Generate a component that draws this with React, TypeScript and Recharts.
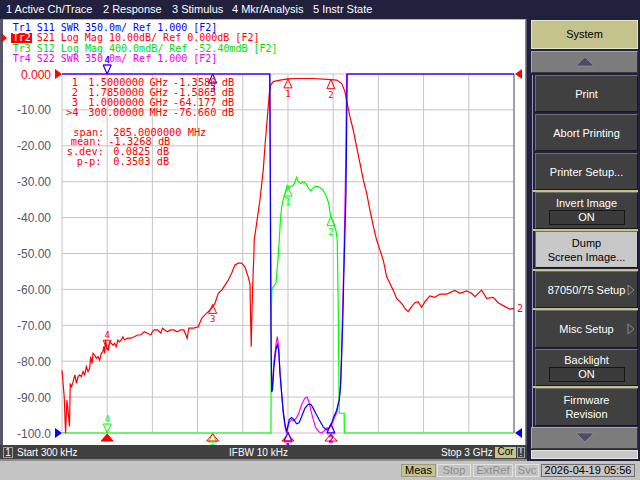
import React from 'react'
import {
  LineChart, Line, XAxis, YAxis, CartesianGrid, ReferenceDot, ReferenceLine,
} from 'recharts'

// sweep 300 kHz .. 3 GHz (values in GHz)
const START_GHZ = 0.0003
const STOP_GHZ = 3
const FREQ_TICKS = [0.0003, 0.3, 0.6, 0.9, 1.2, 1.5, 1.8, 2.1, 2.4, 2.7, 3]
const DB_TICKS = [0, -10, -20, -30, -40, -50, -60, -70, -80, -90, -100]

// Tr2 S21 Log Mag, 10 dB/div, ref 0 dB
const S21_GHZ = [
  0.0003, 0.015, 0.024, 0.033, 0.042, 0.050, 0.055, 0.064, 0.074, 0.086,
  0.096, 0.107, 0.118, 0.129, 0.140, 0.151, 0.162, 0.173, 0.184, 0.191,
  0.200, 0.206, 0.217, 0.228, 0.239, 0.250, 0.261, 0.272, 0.278, 0.283,
  0.289, 0.300, 0.309, 0.316, 0.327, 0.338, 0.349, 0.360, 0.371, 0.382,
  0.393, 0.404, 0.414, 0.436, 0.458, 0.480, 0.502, 0.524, 0.546, 0.568,
  0.590, 0.600, 0.612, 0.634, 0.656, 0.667, 0.699, 0.721, 0.743, 0.765,
  0.787, 0.809, 0.831, 0.842, 0.875, 0.904, 0.927, 0.949, 0.971, 0.993,
  1.015, 1.037, 1.060, 1.082, 1.104, 1.126, 1.148, 1.170, 1.192, 1.214,
  1.236, 1.248, 1.252, 1.256, 1.260, 1.265, 1.269, 1.274, 1.276, 1.292,
  1.314, 1.336, 1.347, 1.358, 1.369, 1.376, 1.385, 1.402, 1.447, 1.500,
  1.557, 1.668, 1.756, 1.785, 1.823, 1.856, 1.878, 1.893, 1.911, 1.933,
  1.955, 1.978, 2.000, 2.022, 2.044, 2.067, 2.088, 2.110, 2.132, 2.155,
  2.176, 2.198, 2.221, 2.254, 2.276, 2.298, 2.320, 2.342, 2.364, 2.387,
  2.409, 2.442, 2.475, 2.508, 2.553, 2.608, 2.641, 2.685, 2.719, 2.741,
  2.785, 2.818, 2.862, 2.895, 2.940, 2.973, 3.000,
]
const S21_DB = [
  -82.5, -89.9, -100, -90.8, -94.5, -98.2, -86.2, -87.1, -85.7, -83.8,
  -86.2, -84.3, -83.8, -84.3, -82.9, -83.8, -81.5, -82.9, -82.0, -78.7,
  -80.6, -77.8, -78.3, -79.2, -78.7, -79.7, -77.8, -77.3, -75.9, -77.8,
  -74.1, -76.7, -76.9, -74.6, -75.0, -75.5, -75.0, -76.0, -74.1, -74.6,
  -74.1, -73.2, -74.1, -73.6, -73.6, -73.2, -72.7, -72.7, -71.8, -72.2,
  -72.7, -71.8, -71.3, -71.3, -72.2, -70.8, -71.8, -71.3, -71.3, -71.8,
  -71.3, -71.3, -73.6, -70.8, -70.8, -70.4, -68.1, -67.1, -66.2, -65.3,
  -63.9, -61.1, -60.2, -58.8, -57.4, -55.5, -53.2, -52.7, -52.7, -53.7,
  -56.5, -58.5, -68.5, -76.0, -68.5, -60.2, -55.5, -50.0, -46.2, -41.6,
  -35.1, -26.7, -20.2, -14.7, -9.1, -5.4, -3.1, -2.1, -1.7, -1.36,
  -1.25, -1.25, -1.5, -1.59, -1.7, -2.6, -4.9, -8.2, -11.9, -15.6,
  -20.2, -24.9, -29.5, -33.2, -37.9, -42.5, -46.2, -49.0, -51.8, -56.5,
  -58.3, -60.2, -62.5, -63.9, -65.3, -66.2, -64.8, -63.7, -63.4, -65.0,
  -63.4, -61.8, -62.2, -61.3, -61.3, -60.3, -61.1, -60.4, -61.1, -62.0,
  -60.2, -62.5, -62.2, -63.7, -64.8, -65.5, -65.3,
]

// Tr3 S12 Log Mag, 400 mdB/div, ref -52.40 dB (trace sits on the bottom edge outside the band)
const S12_GHZ = [
  0.0003, 1.387, 1.390, 1.393, 1.402, 1.420, 1.435, 1.442, 1.451, 1.462,
  1.480, 1.495, 1.513, 1.535, 1.546, 1.557, 1.568, 1.584, 1.601, 1.619,
  1.634, 1.650, 1.668, 1.685, 1.707, 1.730, 1.752, 1.770, 1.783, 1.800,
  1.818, 1.827, 1.833, 1.840, 1.873, 1.874, 3,
]
const S12_DB = [
  -52.4, -52.4, -51.0, -50.8, -50.77, -50.73, -50.44, -50.25, -49.99, -49.84,
  -49.73, -49.64, -49.66, -49.64, -49.60, -49.55, -49.60, -49.62, -49.60, -49.62,
  -49.67, -49.70, -49.67, -49.65, -49.66, -49.69, -49.75, -49.84, -49.99, -50.05,
  -50.14, -50.25, -50.92, -52.18, -52.18, -52.4, -52.4,
]

// Tr1 S11 SWR, 350m/div, ref 1.000 (pinned to the top edge outside the band)
const S11_GHZ = [
  0.0003, 1.380, 1.384, 1.387, 1.392, 1.397, 1.407, 1.420, 1.429, 1.438,
  1.447, 1.458, 1.468, 1.480, 1.491, 1.498, 1.508, 1.524, 1.539, 1.557,
  1.573, 1.591, 1.612, 1.634, 1.652, 1.668, 1.685, 1.707, 1.734, 1.756,
  1.774, 1.790, 1.805, 1.823, 1.840, 1.849, 1.856, 1.863, 1.871, 1.885,
  1.893, 3,
]
const S11_SWR = [
  4.5, 4.5, 2.88, 2.0, 1.40, 1.42, 1.65, 1.81, 1.86, 1.81,
  1.58, 1.39, 1.22, 1.09, 1.01, 1.06, 1.13, 1.15, 1.13, 1.09,
  1.10, 1.16, 1.24, 1.28, 1.28, 1.24, 1.19, 1.13, 1.06, 1.03,
  1.05, 1.10, 1.16, 1.22, 1.32, 1.45, 1.74, 2.07, 2.56, 3.34,
  4.5, 4.5,
]

// Tr4 S22 SWR, 350m/div, ref 1.000
const S22_GHZ = [
  0.0003, 1.378, 1.383, 1.387, 1.391, 1.397, 1.407, 1.420, 1.429, 1.438,
  1.447, 1.458, 1.468, 1.480, 1.491, 1.498, 1.508, 1.524, 1.539, 1.557,
  1.573, 1.591, 1.612, 1.627, 1.640, 1.652, 1.668, 1.685, 1.707, 1.724,
  1.740, 1.756, 1.774, 1.790, 1.805, 1.823, 1.840, 1.849, 1.856, 1.863,
  1.871, 1.878, 1.884, 1.889, 3,
]
const S22_SWR = [
  4.5, 4.5, 3.6, 2.3, 1.55, 1.45, 1.70, 1.86, 1.94, 1.85,
  1.60, 1.38, 1.20, 1.06, 1.00, 1.05, 1.10, 1.13, 1.12, 1.15,
  1.20, 1.28, 1.34, 1.35, 1.30, 1.22, 1.13, 1.05, 1.01, 1.00,
  1.02, 1.05, 1.05, 1.08, 1.14, 1.20, 1.33, 1.50, 1.80, 2.2,
  2.7, 3.2, 3.7, 4.5, 4.5,
]

// markers 1..4 (marker 4 is active)
const MKR_GHZ = [1.5, 1.785, 1.0, 0.3]
const MKR_S21 = [-1.358, -1.5865, -64.177, -76.66]
const MKR_S12 = [-49.66, -49.99, -52.4, -52.4]
const MKR_S11 = [1.01, 1.09, 4.5, 4.5]
const MKR_S22 = [1.0, 1.08, 4.5, 4.5]
const ACTIVE_MKR = 3

const MKR_FREQ_TXT = ['1.5000000', '1.7850000', '1.0000000', '300.00000']
const MKR_UNIT_TXT = ['GHz', 'GHz', 'GHz', 'MHz']
const MKR_VAL_TXT = ['-1.3580', '-1.5865', '-64.177', '-76.660']

const MENU = ['1 Active Ch/Trace', '2 Response', '3 Stimulus', '4 Mkr/Analysis', '5 Instr State']
const MENU_X = [6, 103, 172, 232, 313]

const RED = '#ff0000'
const BLUE = '#0000ff'
const GREEN = '#00ff00'
const MAGENTA = '#ff00ff'
const MONO = '"DejaVu Sans Mono", monospace'
const SANS = '"Liberation Sans", Arial, sans-serif'
const KHAKI = '#c3c38b'
const AXIS_W = 62

const zip = (fs: number[], vs: number[]) => fs.map((f, i) => ({ f, v: vs[i] }))

const s21 = zip(S21_GHZ, S21_DB)
const s12 = zip(S12_GHZ, S12_DB)
const s11 = zip(S11_GHZ, S11_SWR)
const s22 = zip(S22_GHZ, S22_SWR)

function fmtDb(v: number) {
  if (v === 0) return '0.000'
  return v <= -100 ? v.toFixed(1) : v.toFixed(2)
}

// scale labels sit right-aligned 11px left of the graticule
function DbTick(props: any) {
  const { y, payload } = props
  return (
    <text x={AXIS_W - 11} y={y} dy={4.5} textAnchor="end" fontFamily={SANS} fontSize={12}
      fill={payload.value === 0 ? RED : '#55556e'}>
      {fmtDb(payload.value)}
    </text>
  )
}

// trace marker: active one points down with the number above
function markerShape(label: string, color: string, active: boolean) {
  return (p: any) => {
    const { cx, cy } = p
    if (active) {
      return (
        <g>
          <polygon points={`${cx - 4},${cy - 9} ${cx + 4},${cy - 9} ${cx},${cy}`}
            fill="none" stroke={color} strokeWidth={1} />
          <text x={cx} y={cy - 11} textAnchor="middle" fontFamily={MONO} fontSize={9} fill={color}>{label}</text>
        </g>
      )
    }
    return (
      <g>
        <polygon points={`${cx},${cy} ${cx - 4},${cy + 9} ${cx + 4},${cy + 9}`}
          fill="none" stroke={color} strokeWidth={1} />
        <text x={cx} y={cy + 18} textAnchor="middle" fontFamily={MONO} fontSize={9} fill={color}>{label}</text>
      </g>
    )
  }
}

// stimulus marker flags under the graticule
function stimShape(active: boolean) {
  return (p: any) => {
    const { cx, cy } = p
    return (
      <polygon points={`${cx},${cy + 1} ${cx - 6},${cy + 8} ${cx + 6},${cy + 8}`}
        fill={active ? RED : 'none'} stroke={RED} strokeWidth={1} />
    )
  }
}

const refLeft = (color: string) => (p: any) => (
  <polygon points={`${p.cx - 7},${p.cy - 5} ${p.cx - 7},${p.cy + 5} ${p.cx},${p.cy}`} fill={color} />
)
const refRight = (color: string) => (p: any) => (
  <polygon points={`${p.cx + 8},${p.cy - 5} ${p.cx + 8},${p.cy + 5} ${p.cx + 1},${p.cy}`} fill={color} />
)
const traceTag = (label: string, color: string) => (p: any) => (
  <text x={p.cx + 3} y={p.cy + 4} fontFamily={MONO} fontSize={10} fill={color}>{label}</text>
)

function Txt({ x, y, size = 10, color = '#000', font = MONO, children }: any) {
  return (
    <div style={{
      position: 'absolute', left: x, top: y - 0.485 * size, fontSize: size, lineHeight: `${size}px`,
      fontFamily: font, color, whiteSpace: 'pre',
    }}>{children}</div>
  )
}

function Btn({ top, h, lines, left = 535, w = 103, bg = '#404040', fg = '#fff', box, arrow }: any) {
  return (
    <div style={{
      position: 'absolute', left, top, width: w, height: h, boxSizing: 'border-box', background: bg, color: fg,
      borderTop: '1px solid #707070', borderLeft: '1px solid #707070',
      borderRight: '1px solid #181818', borderBottom: '1px solid #181818',
      fontFamily: SANS, fontSize: 11, lineHeight: '14px',
      display: 'flex', flexDirection: 'column', alignItems: 'center', justifyContent: 'center',
    }}>
      {lines.map((l: string) => <div key={l}>{l}</div>)}
      {box && (
        <div style={{
          width: 76, height: 15, boxSizing: 'border-box', border: '1px solid #161616',
          background: '#3a3a3a', textAlign: 'center', lineHeight: '13px',
        }}>{box}</div>
      )}
      {arrow && (
        <svg width={8} height={12} style={{ position: 'absolute', right: 2, top: (h - 12) / 2 - 1 }}>
          <polygon points="1,1 1,11 7,6" fill="none" stroke="#8a8a8a" />
        </svg>
      )}
    </div>
  )
}

function ArrowBtn({ top, up }: any) {
  return (
    <div style={{
      position: 'absolute', left: 531, top, width: 107, height: 22, boxSizing: 'border-box', background: '#7c7c7c',
      borderTop: '1px solid #a8a8a8', borderLeft: '1px solid #a8a8a8', borderRight: '1px solid #3a3a3a', borderBottom: '1px solid #3a3a3a',
    }}>
      <svg width={107} height={22} style={{ position: 'absolute', left: -1, top: -1 }}>
        <polygon points={up ? '45,15 54,6 63,15' : '45,6 54,15 63,6'} fill="#4c4c68" stroke="#9a9aa8" strokeWidth={0.6} />
      </svg>
    </div>
  )
}

function StatusBox({ x, w, bg, color, border, children }: any) {
  return (
    <div style={{
      position: 'absolute', left: x, top: 464, width: w, height: 13, boxSizing: 'border-box', background: bg, color,
      border: `1px solid ${border}`, fontFamily: SANS, fontSize: 11, lineHeight: '11px', textAlign: 'center',
    }}>{children}</div>
  )
}

export default function App() {
  return (
    <div style={{
      position: 'fixed', left: 0, top: 0, width: 640, height: 480, overflow: 'hidden',
      background: '#21213d', fontFamily: SANS,
    }}>
      {/* softkey menu */}
      {MENU.map((m, i) => <Txt key={m} x={MENU_X[i]} y={9} size={11} color="#ffffff" font={SANS}>{m}</Txt>)}

      {/* channel window */}
      <div style={{ position: 'absolute', left: 0, top: 19, width: 527, height: 441, background: '#56566c' }} />
      <div style={{
        position: 'absolute', left: 3, top: 19, width: 523, height: 426, background: '#ffffff',
        boxSizing: 'border-box', borderTop: '1px solid #b4b4c4', borderRight: '1px solid #8a8aa0',
      }} />

      <div style={{ position: 'absolute', left: 0, top: 0 }}>
        <LineChart width={527} height={460} margin={{ top: 74, right: 13, bottom: 27, left: 0 }}>
          <CartesianGrid stroke="#c4c4c4" strokeWidth={1} yAxisId="s21" />
          <XAxis type="number" dataKey="f" domain={[START_GHZ, STOP_GHZ]} ticks={FREQ_TICKS} hide />
          <YAxis yAxisId="s21" type="number" domain={[-100, 0]} ticks={DB_TICKS} width={AXIS_W}
            axisLine={{ stroke: '#5c5c7a' }} tickLine={false} tick={<DbTick />} />
          <YAxis yAxisId="s12" type="number" domain={[-52.4, -48.4]} hide />
          <YAxis yAxisId="s11" type="number" domain={[1, 4.5]} hide />
          <YAxis yAxisId="s22" type="number" domain={[1, 4.5]} hide />
          <ReferenceLine yAxisId="s21" x={STOP_GHZ} stroke="#5c5c7a" />

          <Line data={s22} dataKey="v" yAxisId="s22" type="linear" stroke={MAGENTA} strokeWidth={1.2}
            dot={false} isAnimationActive={false} />
          <Line data={s12} dataKey="v" yAxisId="s12" type="linear" stroke={GREEN} strokeWidth={1.2}
            dot={false} isAnimationActive={false} />
          <Line data={s21} dataKey="v" yAxisId="s21" type="linear" stroke={RED} strokeWidth={1.2}
            dot={false} isAnimationActive={false} />
          <Line data={s11} dataKey="v" yAxisId="s11" type="linear" stroke={BLUE} strokeWidth={1.2}
            dot={false} isAnimationActive={false} />

          {/* reference level arrows */}
          <ReferenceDot yAxisId="s21" x={START_GHZ} y={0} shape={refLeft(RED)} />
          <ReferenceDot yAxisId="s11" x={START_GHZ} y={1} shape={refLeft(BLUE)} />
          <ReferenceDot yAxisId="s21" x={STOP_GHZ} y={0} shape={refRight(RED)} />
          <ReferenceDot yAxisId="s11" x={STOP_GHZ} y={1} shape={refRight(BLUE)} />
          <ReferenceDot yAxisId="s21" x={STOP_GHZ} y={S21_DB[S21_DB.length - 1]} shape={traceTag('2', RED)} />

          {MKR_GHZ.map((f, i) => (
            <ReferenceDot key={`m22${i}`} yAxisId="s22" x={f} y={MKR_S22[i]}
              shape={markerShape(String(i + 1), MAGENTA, i === ACTIVE_MKR)} />
          ))}
          {MKR_GHZ.map((f, i) => (
            <ReferenceDot key={`m12${i}`} yAxisId="s12" x={f} y={MKR_S12[i]}
              shape={markerShape(String(i + 1), GREEN, i === ACTIVE_MKR)} />
          ))}
          {MKR_GHZ.map((f, i) => (
            <ReferenceDot key={`m11${i}`} yAxisId="s11" x={f} y={MKR_S11[i]}
              shape={markerShape(String(i + 1), BLUE, i === ACTIVE_MKR)} />
          ))}
          {MKR_GHZ.map((f, i) => (
            <ReferenceDot key={`m21${i}`} yAxisId="s21" x={f} y={MKR_S21[i]}
              shape={markerShape(String(i + 1), RED, i === ACTIVE_MKR)} />
          ))}
          {MKR_GHZ.map((f, i) => (
            <ReferenceDot key={`st${i}`} yAxisId="s21" x={f} y={-100} shape={stimShape(i === ACTIVE_MKR)} />
          ))}
        </LineChart>
      </div>

      {/* trace header */}
      <Txt x={12.7} y={27.5} color={BLUE}>Tr1 S11 SWR 350.0m/ Ref 1.000 [F2]</Txt>
      <svg width={8} height={12} style={{ position: 'absolute', left: 1, top: 32 }}>
        <polygon points="0,1 0,11 6,6" fill={RED} />
      </svg>
      <div style={{ position: 'absolute', left: 11, top: 33, width: 21, height: 10, background: RED }} />
      <Txt x={12.7} y={38} color="#ffffff">Tr2</Txt>
      <Txt x={36.7} y={38} color={RED}>S21 Log Mag 10.00dB/ Ref 0.000dB [F2]</Txt>
      <Txt x={12.7} y={48.5} color="#00dd00">Tr3 S12 Log Mag 400.0mdB/ Ref -52.40mdB [F2]</Txt>
      <Txt x={12.7} y={59} color="#ee00ee">Tr4 S22 SWR 350.0m/ Ref 1.000 [F2]</Txt>

      {/* marker readout */}
      {MKR_FREQ_TXT.map((t, i) => {
        const y = 81.7 + i * 10
        return (
          <React.Fragment key={t}>
            <Txt x={i === ACTIVE_MKR ? 66 : 71.7} y={y} size={10.3} color={RED}>{i === ACTIVE_MKR ? `>${i + 1}` : `${i + 1}`}</Txt>
            <Txt x={88.3} y={y} size={10.3} color={RED}>{t}</Txt>
            <Txt x={149.5} y={y} size={10.3} color={RED}>{MKR_UNIT_TXT[i]}</Txt>
            <Txt x={173} y={y} size={10.3} color={RED}>{MKR_VAL_TXT[i]}</Txt>
            <Txt x={221.7} y={y} size={10.3} color={RED}>dB</Txt>
          </React.Fragment>
        )
      })}
      <Txt x={73.3} y={131.7} size={10.3} color={RED}>span:</Txt>
      <Txt x={113.3} y={131.7} size={10.3} color={RED}>285.0000000 MHz</Txt>
      <Txt x={70.7} y={141.3} size={10.3} color={RED}>mean:</Txt>
      <Txt x={108.3} y={141.3} size={10.3} color={RED}>-1.3268 dB</Txt>
      <Txt x={66.7} y={151} size={10.3} color={RED}>s.dev:</Txt>
      <Txt x={113.3} y={151} size={10.3} color={RED}>0.0825 dB</Txt>
      <Txt x={76.7} y={161} size={10.3} color={RED}>p-p:</Txt>
      <Txt x={113.3} y={161} size={10.3} color={RED}>0.3503 dB</Txt>

      {/* channel status bar */}
      <div style={{ position: 'absolute', left: 0, top: 445, width: 527, height: 14, background: '#404040' }} />
      <div style={{ position: 'absolute', left: 0, top: 459, width: 527, height: 2, background: '#8c8c8c' }} />
      <div style={{
        position: 'absolute', left: 3, top: 447, width: 10, height: 11, boxSizing: 'border-box',
        border: '1px solid #a0a0a0', color: '#fff', fontSize: 10, lineHeight: '9px', textAlign: 'center',
      }}>1</div>
      <Txt x={17} y={452.5} size={10} color="#ffffff" font={SANS}>Start 300 kHz</Txt>
      <Txt x={229} y={452.5} size={10} color="#ffffff" font={SANS}>IFBW 10 kHz</Txt>
      <Txt x={441} y={452.5} size={10} color="#ffffff" font={SANS}>Stop 3 GHz</Txt>
      <div style={{
        position: 'absolute', left: 495, top: 447, width: 21, height: 11, boxSizing: 'border-box', background: KHAKI,
        color: '#000', fontSize: 10, lineHeight: '10px', textAlign: 'center',
      }}>Cor</div>
      <div style={{
        position: 'absolute', left: 517, top: 447, width: 8, height: 11, boxSizing: 'border-box',
        border: '1px solid #a0a0a0', color: '#fff', fontSize: 10, lineHeight: '9px', textAlign: 'center',
      }}>!</div>

      {/* softkey panel */}
      <div style={{
        position: 'absolute', left: 531, top: 20, width: 107, height: 29, boxSizing: 'border-box', background: KHAKI,
        border: '1px solid #e6e6c8', fontSize: 11, lineHeight: '27px', textAlign: 'center', color: '#000',
      }}>System</div>
      <ArrowBtn top={51} up />
      <div style={{ position: 'absolute', left: 532, top: 75, width: 1, height: 352, background: '#9a9aae' }} />
      <Btn top={75} h={37} lines={['Print']} />
      <Btn top={114} h={37} lines={['Abort Printing']} />
      <Btn top={153} h={37} lines={['Printer Setup...']} />
      <div style={{ position: 'absolute', left: 533, top: 190, width: 105, height: 2, background: KHAKI }} />
      <Btn top={192} h={37} lines={['Invert Image']} box="ON" />
      <div style={{ position: 'absolute', left: 533, top: 229, width: 105, height: 2, background: KHAKI }} />
      <Btn top={231} h={37} lines={['Dump', 'Screen Image...']} bg="#c8c8c8" fg="#000" />
      <div style={{ position: 'absolute', left: 533, top: 269, width: 105, height: 2, background: KHAKI }} />
      <Btn top={271} h={37} lines={['87050/75 Setup']} arrow />
      <div style={{ position: 'absolute', left: 533, top: 308, width: 105, height: 2, background: KHAKI }} />
      <Btn top={310} h={38} lines={['Misc Setup']} arrow />
      <Btn top={349} h={37} lines={['Backlight']} box="ON" />
      <div style={{ position: 'absolute', left: 533, top: 386, width: 105, height: 2, background: KHAKI }} />
      <Btn top={388} h={38} lines={['Firmware', 'Revision']} />
      <ArrowBtn top={427} />
      <div style={{
        position: 'absolute', left: 531, top: 450, width: 107, height: 9, boxSizing: 'border-box',
        background: '#c8c8c8', border: '1px solid #e4e4e4',
      }} />

      {/* instrument status line */}
      <div style={{ position: 'absolute', left: 0, top: 461, width: 640, height: 19, background: '#c4c4c4' }} />
      <StatusBox x={401} w={35} bg={KHAKI} color="#000" border="#9c9c7c">Meas</StatusBox>
      <StatusBox x={437} w={34} bg="#c4c4c4" color="#8e8e8e" border="#e2e2e2">Stop</StatusBox>
      <StatusBox x={473} w={40} bg="#c4c4c4" color="#8e8e8e" border="#e2e2e2">ExtRef</StatusBox>
      <StatusBox x={515} w={24} bg="#c4c4c4" color="#8e8e8e" border="#e2e2e2">Svc</StatusBox>
      <StatusBox x={541} w={94} bg="#c4c4c4" color="#000" border="#707070">2026-04-19 05:56</StatusBox>
    </div>
  )
}
